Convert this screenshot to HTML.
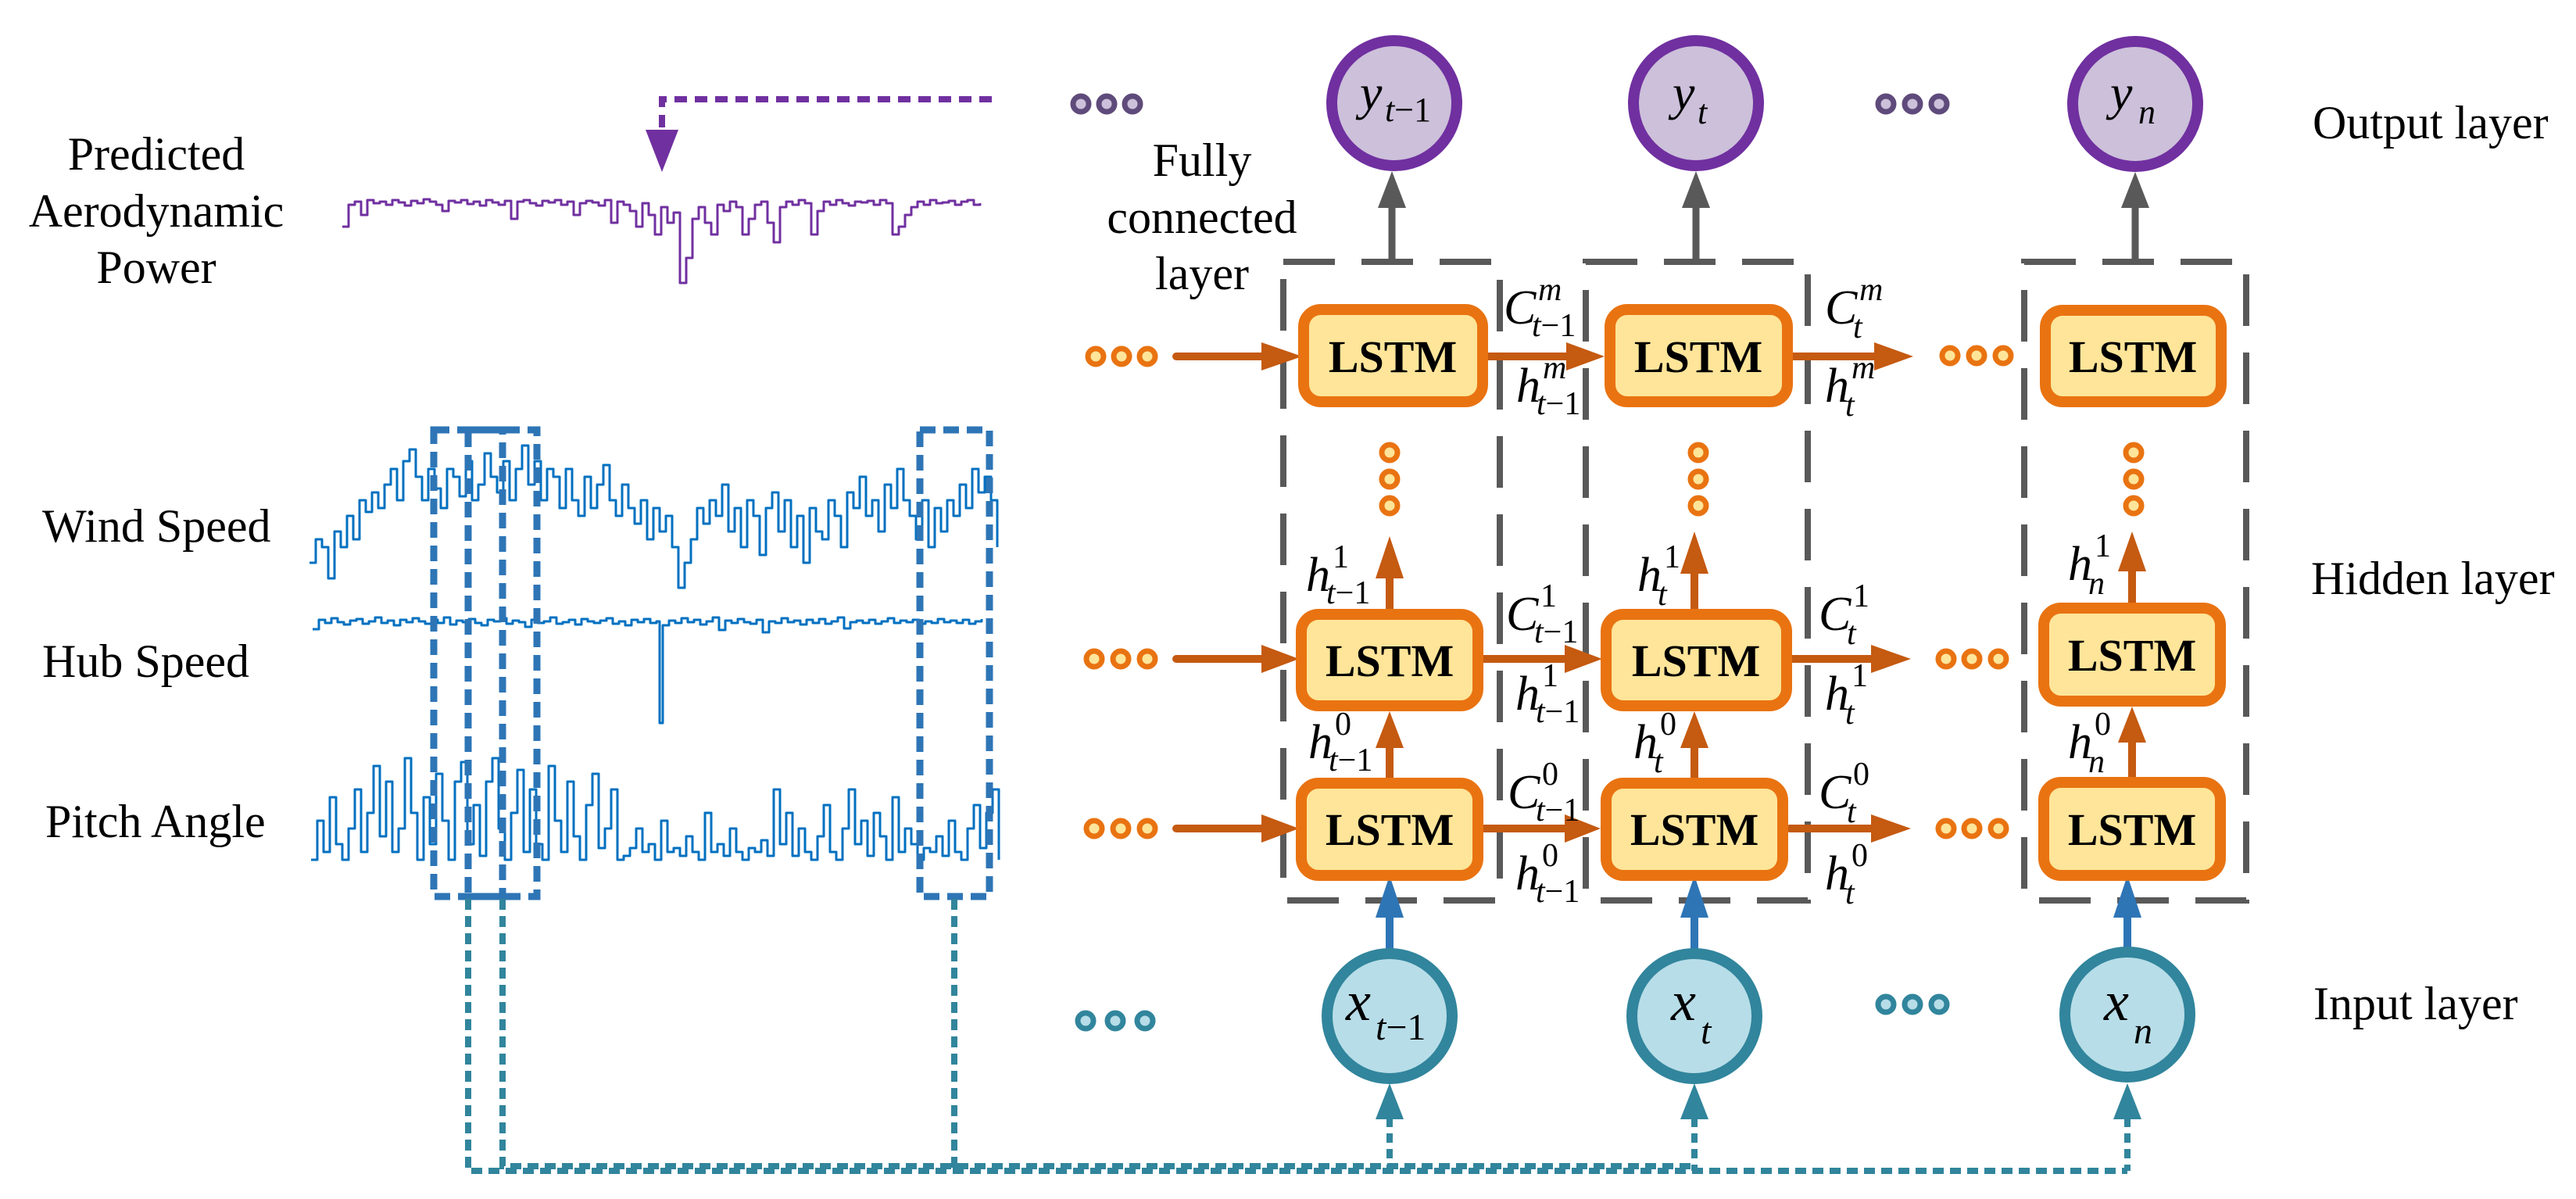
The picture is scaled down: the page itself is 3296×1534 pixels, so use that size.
<!DOCTYPE html>
<html><head><meta charset="utf-8"><style>
html,body{margin:0;padding:0;background:#fff;}
svg{display:block;}
svg text{font-family:"Liberation Serif","Times New Roman",Times,serif;fill:#000;}
.it{font-style:italic;}
</style></head><body>
<svg width="3296" height="1534" viewBox="0 0 3296 1534" xmlns="http://www.w3.org/2000/svg" font-family="'Liberation Serif','Times New Roman',Times,serif">
<rect width="3296" height="1534" fill="#fff"/>

<g font-size="60" text-anchor="middle">
<text x="200" y="217">Predicted</text>
<text x="200" y="290">Aerodynamic</text>
<text x="200" y="362">Power</text>
</g>
<g font-size="60">
<text x="54" y="693">Wind Speed</text>
<text x="54" y="866">Hub Speed</text>
<text x="58" y="1071">Pitch Angle</text>
</g>

<!-- signals (static) -->
<g fill="none" stroke-width="3" stroke-linejoin="round">
<path stroke="#7030a0" d="M438 290 h8 V262 h8 V258 h8 V275 h8 V256 h8 V260 h8 V258 h8 V262 h8 V256 h8 V259 h8 V263 h8 V257 h8 V260 h8 V255 h8 V258 h8 V262 h8 V270 h8 V257 h8 V259 h8 V256 h8 V261 h8 V258 h8 V263 h8 V256 h8 V259 h8 V262 h8 V257 h8 V280 h8 V258 h8 V256 h8 V260 h8 V263 h8 V257 h8 V259 h8 V256 h8 V262 h8 V258 h8 V275 h8 V260 h8 V257 h8 V259 h8 V263 h8 V256 h8 V285 h8 V258 h8 V262 h8 V270 h8 V290 h8 V260 h8 V275 h8 V300 h8 V265 h8 V285 h8 V272 h8 V362 h8 V330 h8 V280 h8 V265 h8 V285 h8 V300 h8 V262 h8 V270 h8 V258 h8 V265 h8 V300 h8 V280 h8 V262 h8 V258 h8 V285 h8 V310 h8 V265 h8 V258 h8 V262 h8 V256 h8 V260 h8 V300 h8 V270 h8 V258 h8 V262 h8 V256 h8 V260 h8 V263 h8 V258 h8 V259 h8 V257 h8 V262 h8 V256 h8 V260 h8 V300 h8 V290 h8 V275 h8 V265 h8 V258 h8 V262 h8 V256 h8 V260 h8 V259 h8 V257 h8 V262 h8 V258 h8 V256 h8 V262 h8 V260"/>
<path stroke="#0070c0" d="M396 720 h8 V690 h8 V700 h8 V740 h8 V680 h8 V700 h8 V660 h8 V690 h8 V640 h8 V655 h8 V630 h8 V650 h8 V620 h8 V600 h8 V640 h8 V590 h8 V575 h8 V610 h8 V640 h8 V600 h8 V625 h8 V650 h8 V600 h8 V610 h8 V635 h8 V590 h8 V640 h8 V620 h8 V580 h8 V610 h8 V630 h8 V590 h8 V640 h8 V600 h8 V570 h8 V620 h8 V590 h8 V640 h8 V600 h8 V610 h8 V650 h8 V600 h8 V640 h8 V660 h8 V610 h8 V650 h8 V620 h8 V595 h8 V640 h8 V660 h8 V620 h8 V650 h8 V670 h8 V640 h8 V690 h8 V650 h8 V680 h8 V660 h8 V700 h8 V752 h8 V720 h8 V690 h8 V650 h8 V670 h8 V640 h8 V660 h8 V620 h8 V680 h8 V650 h8 V700 h8 V640 h8 V660 h8 V710 h8 V650 h8 V630 h8 V680 h8 V640 h8 V700 h8 V660 h8 V720 h8 V650 h8 V680 h8 V690 h8 V640 h8 V660 h8 V700 h8 V630 h8 V650 h8 V610 h8 V660 h8 V640 h8 V680 h8 V620 h8 V650 h8 V600 h8 V640 h8 V660 h8 V690 h8 V640 h8 V700 h8 V650 h8 V680 h8 V640 h8 V660 h8 V620 h8 V650 h8 V600 h8 V630 h8 V610 h8 V640 h8 V700"/>
<path stroke="#0070c0" d="M400 805 h8 V793 h8 V797 h8 V791 h8 V796 h8 V799 h8 V794 h8 V792 h8 V798 h8 V795 h8 V790 h8 V797 h8 V794 h8 V800 h8 V793 h8 V796 h8 V791 h8 V795 h8 V798 h8 V793 h8 V797 h8 V790 h8 V799 h8 V794 h8 V796 h8 V792 h8 V797 h8 V800 h8 V793 h8 V795 h8 V791 h8 V798 h8 V794 h8 V796 h8 V802 h8 V793 h8 V797 h8 V795 h8 V790 h8 V798 h8 V796 h8 V793 h8 V799 h8 V792 h8 V795 h8 V797 h8 V794 h8 V791 h8 V798 h8 V795 h8 V800 h8 V793 h8 V796 h8 V792 h8 V797 h8 V795 h4 V925 h4 V800 h8 V794 h8 V797 h8 V791 h8 V796 h8 V793 h8 V799 h8 V795 h8 V790 h8 V806 h8 V794 h8 V797 h8 V792 h8 V796 h8 V798 h8 V793 h8 V809 h8 V795 h8 V797 h8 V791 h8 V796 h8 V794 h8 V799 h8 V793 h8 V797 h8 V792 h8 V798 h8 V795 h8 V790 h8 V804 h8 V796 h8 V794 h8 V797 h8 V793 h8 V798 h8 V795 h8 V791 h8 V797 h8 V794 h8 V796 h8 V793 h8 V798 h8 V795 h8 V797 h8 V792 h8 V796 h8 V794 h8 V797 h8 V793 h8 V798 h8 V795 h8 V792"/>
<path stroke="#0070c0" d="M398 1100 h8 V1050 h8 V1090 h8 V1020 h8 V1080 h8 V1100 h8 V1060 h8 V1010 h8 V1090 h8 V1040 h8 V980 h8 V1070 h8 V1000 h8 V1090 h8 V1060 h8 V970 h8 V1040 h8 V1100 h8 V1020 h8 V1080 h8 V990 h8 V1050 h8 V1100 h8 V1000 h8 V975 h8 V1080 h8 V1030 h8 V1095 h8 V1000 h8 V970 h8 V1060 h8 V1100 h8 V1040 h8 V985 h8 V1090 h8 V1010 h8 V1080 h8 V1100 h8 V980 h8 V1050 h8 V1090 h8 V1000 h8 V1070 h8 V1100 h8 V1030 h8 V990 h8 V1085 h8 V1060 h8 V1010 h8 V1100 h8 V1095 h8 V1085 h8 V1060 h8 V1090 h8 V1080 h8 V1100 h8 V1050 h8 V1090 h8 V1085 h8 V1095 h8 V1070 h8 V1090 h8 V1100 h8 V1040 h8 V1090 h8 V1080 h8 V1095 h8 V1060 h8 V1090 h8 V1100 h8 V1085 h8 V1090 h8 V1075 h8 V1095 h8 V1010 h8 V1080 h8 V1040 h8 V1095 h8 V1060 h8 V1090 h8 V1100 h8 V1070 h8 V1030 h8 V1090 h8 V1100 h8 V1060 h8 V1010 h8 V1080 h8 V1050 h8 V1095 h8 V1040 h8 V1070 h8 V1100 h8 V1020 h8 V1090 h8 V1060 h8 V1080 h8 V1100 h8 V1085 h8 V1090 h8 V1070 h8 V1095 h8 V1050 h8 V1090 h8 V1100 h8 V1060 h8 V1030 h8 V1085 h8 V1040 h8 V1010 h8 V1100"/>
</g>

<path d="M1269 127 H847 V166" fill="none" stroke="#7030a0" stroke-width="8" stroke-dasharray="16 10"/>
<polygon points="847,220 826,166 868,166" fill="#7030a0"/>

<g fill="none" stroke="#2e75b6" stroke-width="9" stroke-dasharray="20 10">
<rect x="555" y="550" width="132" height="597"/>
<rect x="599" y="550" width="44" height="597"/>
<rect x="1177" y="550" width="89" height="597"/>
</g>

<g fill="none" stroke="#31859c" stroke-width="8">
<path d="M599 1150 V1498 H2722" stroke-dasharray="14 8"/>
<path d="M643 1150 V1492 H2168" stroke-dasharray="14 8"/>
<path d="M1221 1150 V1496" stroke-dasharray="14 8"/>
<path d="M1778 1430 V1498 M2168 1430 V1498 M2722 1430 V1498" stroke-dasharray="12 8"/>
</g>
<g fill="#31859c">
<polygon points="1778,1386 1760,1432 1796,1432"/>
<polygon points="2168,1386 2150,1432 2186,1432"/>
<polygon points="2722,1386 2704,1432 2740,1432"/>
</g>

<g fill="none" stroke="#595959" stroke-width="8" stroke-dasharray="66 34">
<rect x="1642" y="335" width="277" height="817"/>
<rect x="2029" y="335" width="284" height="817"/>
<rect x="2590" y="335" width="284" height="817"/>
</g>

<g stroke="#595959" stroke-width="9">
<line x1="1781" y1="335" x2="1781" y2="262"/>
<line x1="2170" y1="335" x2="2170" y2="262"/>
<line x1="2732" y1="335" x2="2732" y2="262"/>
</g>
<g fill="#595959">
<polygon points="1781,219 1763,266 1799,266"/>
<polygon points="2170,219 2152,266 2188,266"/>
<polygon points="2732,220 2714,266 2750,266"/>
</g>

<g fill="#ccc0da" stroke="#7030a0" stroke-width="14">
<circle cx="1784" cy="132" r="80"/>
<circle cx="2170" cy="132" r="80"/>
<circle cx="2732" cy="133" r="80"/>
</g>
<text class="it" x="1740" y="140" font-size="64">y</text><text x="1772" y="155" font-size="44"><tspan font-style="italic">t</tspan>−1</text>
<text class="it" x="2140" y="140" font-size="64">y</text><text class="it" x="2172" y="158" font-size="44">t</text>
<text class="it" x="2700" y="140" font-size="64">y</text><text class="it" x="2736" y="158" font-size="44">n</text>

<g fill="#ccc0da" stroke="#5f4b7b" stroke-width="7">
<circle cx="1383" cy="133" r="10"/><circle cx="1416" cy="133" r="10"/><circle cx="1449" cy="133" r="10"/>
<circle cx="2413" cy="133" r="10"/><circle cx="2447" cy="133" r="10"/><circle cx="2481" cy="133" r="10"/>
</g>

<g font-size="60">
<text x="2959" y="177">Output layer</text>
<text x="2957" y="760">Hidden layer</text>
<text x="2960" y="1304">Input layer</text>
</g>
<g font-size="60" text-anchor="middle">
<text x="1538" y="225">Fully</text>
<text x="1538" y="298">connected</text>
<text x="1538" y="370">layer</text>
</g>

<g stroke="#c55a11" stroke-width="10" stroke-linecap="round">
<line x1="1505" y1="456" x2="1620" y2="456"/><line x1="1898" y1="456" x2="2010" y2="456"/><line x1="2290" y1="456" x2="2405" y2="456"/>
<line x1="1505" y1="843" x2="1620" y2="843"/><line x1="1893" y1="843" x2="2010" y2="843"/><line x1="2290" y1="843" x2="2400" y2="843"/>
<line x1="1505" y1="1060" x2="1620" y2="1060"/><line x1="1893" y1="1060" x2="2010" y2="1060"/><line x1="2290" y1="1060" x2="2400" y2="1060"/>
<line x1="1778" y1="995" x2="1778" y2="950"/><line x1="1778" y1="779" x2="1778" y2="735"/>
<line x1="2168" y1="995" x2="2168" y2="950"/><line x1="2168" y1="779" x2="2168" y2="735"/>
<line x1="2728" y1="994" x2="2728" y2="945"/><line x1="2728" y1="771" x2="2728" y2="725"/>
</g>
<g fill="#c55a11">
<polygon points="1666,456 1614,438 1614,474"/><polygon points="2053,456 2004,438 2004,474"/><polygon points="2448,456 2398,438 2398,474"/>
<polygon points="1662,843 1614,825 1614,861"/><polygon points="2050,843 2002,825 2002,861"/><polygon points="2445,843 2394,825 2394,861"/>
<polygon points="1662,1060 1614,1042 1614,1078"/><polygon points="2048,1060 2002,1042 2002,1078"/><polygon points="2445,1060 2394,1042 2394,1078"/>
<polygon points="1778,910 1760,957 1796,957"/><polygon points="1778,686 1760,740 1796,740"/>
<polygon points="2168,910 2150,957 2186,957"/><polygon points="2168,680 2150,734 2186,734"/>
<polygon points="2728,904 2710,950 2746,950"/><polygon points="2728,680 2710,731 2746,731"/>
</g>

<g stroke="#2e75b6" stroke-width="10"><line x1="1778" y1="1214" x2="1778" y2="1170"/><line x1="2168" y1="1214" x2="2168" y2="1170"/><line x1="2722" y1="1214" x2="2722" y2="1170"/></g>
<g fill="#2e75b6">
<polygon points="1778,1120 1760,1174 1796,1174"/><polygon points="2168,1120 2150,1174 2186,1174"/><polygon points="2722,1120 2704,1174 2740,1174"/>
</g>

<g fill="#ffe599" stroke="#e97311" stroke-width="14">
<rect x="1668" y="396" width="229" height="118" rx="22"/>
<rect x="2060" y="396" width="227" height="118" rx="22"/>
<rect x="2617" y="397" width="225" height="117" rx="22"/>
<rect x="1665" y="786" width="226" height="117" rx="22"/>
<rect x="2055" y="786" width="231" height="117" rx="22"/>
<rect x="2615" y="778" width="226" height="119" rx="22"/>
<rect x="1665" y="1002" width="226" height="118" rx="22"/>
<rect x="2055" y="1002" width="226" height="118" rx="22"/>
<rect x="2615" y="1001" width="226" height="119" rx="22"/>
</g>
<g font-size="58" font-weight="bold" text-anchor="middle">
<text x="1782" y="476">LSTM</text><text x="2173" y="476">LSTM</text><text x="2729" y="476">LSTM</text>
<text x="1778" y="865">LSTM</text><text x="2170" y="865">LSTM</text><text x="2728" y="858">LSTM</text>
<text x="1778" y="1081">LSTM</text><text x="2168" y="1081">LSTM</text><text x="2728" y="1081">LSTM</text>
</g>

<g fill="#ffe599" stroke="#e97311" stroke-width="7">
<circle cx="1402" cy="456" r="10"/><circle cx="1435" cy="456" r="10"/><circle cx="1468" cy="456" r="10"/>
<circle cx="2495" cy="455" r="10"/><circle cx="2529" cy="455" r="10"/><circle cx="2563" cy="455" r="10"/>
<circle cx="1400" cy="843" r="10"/><circle cx="1434" cy="843" r="10"/><circle cx="1468" cy="843" r="10"/>
<circle cx="2490" cy="843" r="10"/><circle cx="2523" cy="843" r="10"/><circle cx="2557" cy="843" r="10"/>
<circle cx="1400" cy="1060" r="10"/><circle cx="1434" cy="1060" r="10"/><circle cx="1468" cy="1060" r="10"/>
<circle cx="2490" cy="1060" r="10"/><circle cx="2523" cy="1060" r="10"/><circle cx="2557" cy="1060" r="10"/>
<circle cx="1778" cy="579" r="10"/><circle cx="1778" cy="613" r="10"/><circle cx="1778" cy="647" r="10"/>
<circle cx="2173" cy="579" r="10"/><circle cx="2173" cy="613" r="10"/><circle cx="2173" cy="647" r="10"/>
<circle cx="2730" cy="579" r="10"/><circle cx="2730" cy="613" r="10"/><circle cx="2730" cy="647" r="10"/>
</g>

<g fill="#b7dde8" stroke="#31859c" stroke-width="14">
<circle cx="1778" cy="1300" r="80"/><circle cx="2168" cy="1300" r="80"/><circle cx="2722" cy="1298" r="80"/>
</g>
<text class="it" x="1722" y="1305" font-size="72">x</text><text x="1760" y="1330" font-size="48"><tspan font-style="italic">t</tspan>−1</text>
<text class="it" x="2138" y="1305" font-size="72">x</text><text class="it" x="2176" y="1335" font-size="48">t</text>
<text class="it" x="2692" y="1305" font-size="72">x</text><text class="it" x="2730" y="1335" font-size="48">n</text>

<g fill="#b7dde8" stroke="#31859c" stroke-width="7">
<circle cx="1389" cy="1306" r="10"/><circle cx="1427" cy="1306" r="10"/><circle cx="1465" cy="1306" r="10"/>
<circle cx="2413" cy="1285" r="10"/><circle cx="2447" cy="1285" r="10"/><circle cx="2481" cy="1285" r="10"/>
</g>

<!-- math labels (static) -->
<g font-size="42">
<!-- row m -->
<text class="it" x="1924" y="414" font-size="62">C</text><text class="it" x="1968" y="384">m</text><text x="1960" y="430"><tspan font-style="italic">t</tspan>−1</text>
<text class="it" x="1940" y="514" font-size="62">h</text><text class="it" x="1974" y="484">m</text><text x="1966" y="530"><tspan font-style="italic">t</tspan>−1</text>
<text class="it" x="2335" y="414" font-size="62">C</text><text class="it" x="2379" y="384">m</text><text class="it" x="2371" y="432">t</text>
<text class="it" x="2335" y="514" font-size="62">h</text><text class="it" x="2369" y="484">m</text><text class="it" x="2361" y="532">t</text>
<!-- row 1 -->
<text class="it" x="1927" y="806" font-size="62">C</text><text x="1971" y="776">1</text><text x="1963" y="822"><tspan font-style="italic">t</tspan>−1</text>
<text class="it" x="1939" y="908" font-size="62">h</text><text x="1973" y="878">1</text><text x="1965" y="924"><tspan font-style="italic">t</tspan>−1</text>
<text class="it" x="2327" y="806" font-size="62">C</text><text x="2371" y="776">1</text><text class="it" x="2363" y="824">t</text>
<text class="it" x="2335" y="908" font-size="62">h</text><text x="2369" y="878">1</text><text class="it" x="2361" y="926">t</text>
<!-- row 0 -->
<text class="it" x="1929" y="1034" font-size="62">C</text><text x="1973" y="1004">0</text><text x="1965" y="1050"><tspan font-style="italic">t</tspan>−1</text>
<text class="it" x="1939" y="1138" font-size="62">h</text><text x="1973" y="1108">0</text><text x="1965" y="1154"><tspan font-style="italic">t</tspan>−1</text>
<text class="it" x="2327" y="1034" font-size="62">C</text><text x="2371" y="1004">0</text><text class="it" x="2363" y="1052">t</text>
<text class="it" x="2335" y="1138" font-size="62">h</text><text x="2369" y="1108">0</text><text class="it" x="2361" y="1156">t</text>
<!-- vertical labels -->
<text class="it" x="1671" y="756" font-size="62">h</text><text x="1705" y="726">1</text><text x="1697" y="772"><tspan font-style="italic">t</tspan>−1</text>
<text class="it" x="2095" y="756" font-size="62">h</text><text x="2129" y="726">1</text><text class="it" x="2121" y="774">t</text>
<text class="it" x="2646" y="742" font-size="62">h</text><text x="2680" y="712">1</text><text class="it" x="2672" y="760">n</text>
<text class="it" x="1674" y="970" font-size="62">h</text><text x="1708" y="940">0</text><text x="1700" y="986"><tspan font-style="italic">t</tspan>−1</text>
<text class="it" x="2090" y="970" font-size="62">h</text><text x="2124" y="940">0</text><text class="it" x="2116" y="988">t</text>
<text class="it" x="2646" y="970" font-size="62">h</text><text x="2680" y="940">0</text><text class="it" x="2672" y="988">n</text>
</g>
</svg>
</body></html>
